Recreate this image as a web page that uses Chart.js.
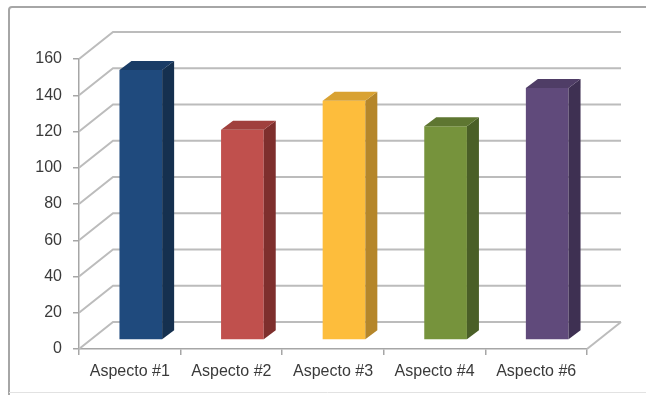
<!DOCTYPE html>
<html>
<head>
<meta charset="utf-8">
<script src="https://cdn.jsdelivr.net/npm/chart.js@4.4.1/dist/chart.umd.min.js"></script>
<style>
	html, body { margin: 0; padding: 0; background: #fff; }
	#wrap { width: 646px; height: 395px; }
</style>
</head>
<body>
<div id="wrap"><canvas id="aspectChart" width="646" height="395"></canvas></div>
<script>
// data
const categories = ['Aspecto #1', 'Aspecto #2', 'Aspecto #3', 'Aspecto #4', 'Aspecto #6'];
const values = [149, 116, 132, 118, 139];
const yTicks = [0, 20, 40, 60, 80, 100, 120, 140, 160];

const frontColors = ['#1f4a7d', '#c0504d', '#fdbd3c', '#76933c', '#604a7b'];
const sideColors = ['#15304f', '#7e2f2d', '#b5862a', '#4a5f27', '#3e3052'];
const topColors = ['#1a3c66', '#a0403d', '#d9a232', '#5e7631', '#4f3d66'];

// 3d look: depth of the walls and of each bar
const WALL_DX = 34, WALL_DY = -27;
const BAR_SHIFT_X = 11, BAR_SHIFT_Y = -9;
const BAR_DX = 12, BAR_DY = -9;

const frame3d = {
	id: 'frame3d',
	beforeDraw(chart) {
		const ctx = chart.ctx;
		ctx.save();
		ctx.strokeStyle = '#a6a6a6';
		ctx.lineWidth = 2;
		ctx.beginPath();
		ctx.moveTo(9, 395);
		ctx.lineTo(9, 10);
		ctx.quadraticCurveTo(9, 7, 12, 7);
		ctx.lineTo(646, 7);
		ctx.stroke();
		ctx.strokeStyle = '#e2e2e2';
		ctx.lineWidth = 1;
		ctx.beginPath();
		ctx.moveTo(9, 392.5);
		ctx.lineTo(646, 392.5);
		ctx.stroke();
		ctx.restore();
	},
	beforeDatasetsDraw(chart) {
		const ctx = chart.ctx;
		const area = chart.chartArea;
		const y = chart.scales.y;
		ctx.save();
		ctx.strokeStyle = '#bcbcbc';
		ctx.lineWidth = 2;
		yTicks.forEach(v => {
			const py = y.getPixelForValue(v);
			ctx.beginPath();
			ctx.moveTo(area.left, py);
			ctx.lineTo(area.left + WALL_DX, py + WALL_DY);
			ctx.lineTo(area.right + WALL_DX, py + WALL_DY);
			ctx.stroke();
		});
		// floor, right edge
		ctx.beginPath();
		ctx.moveTo(area.right, area.bottom);
		ctx.lineTo(area.right + WALL_DX, area.bottom + WALL_DY);
		ctx.stroke();
		ctx.restore();

		// front faces are drawn a bit deeper than the front plane
		ctx.save();
		ctx.translate(BAR_SHIFT_X, BAR_SHIFT_Y);
	},
	afterDatasetsDraw(chart) {
		const ctx = chart.ctx;
		const meta = chart.getDatasetMeta(0);
		meta.data.forEach((bar, i) => {
			const { x, y, base, width } = bar.getProps(['x', 'y', 'base', 'width'], true);
			const l = x - width / 2, r = x + width / 2;

			ctx.fillStyle = sideColors[i];
			ctx.beginPath();
			ctx.moveTo(r, y);
			ctx.lineTo(r + BAR_DX, y + BAR_DY);
			ctx.lineTo(r + BAR_DX, base + BAR_DY);
			ctx.lineTo(r, base);
			ctx.closePath();
			ctx.fill();

			ctx.fillStyle = topColors[i];
			ctx.beginPath();
			ctx.moveTo(l, y);
			ctx.lineTo(l + BAR_DX, y + BAR_DY);
			ctx.lineTo(r + BAR_DX, y + BAR_DY);
			ctx.lineTo(r, y);
			ctx.closePath();
			ctx.fill();
		});
		ctx.restore();
	}
};

new Chart(document.getElementById('aspectChart'), {
	type: 'bar',
	data: {
		labels: categories,
		datasets: [
			{
				data: values,
				backgroundColor: frontColors,
				borderWidth: 0,
				barPercentage: 0.42,
				categoryPercentage: 1
			}
		]
	},
	options: {
		responsive: false,
		animation: false,
		layout: { padding: { left: 0, right: 59, top: 59, bottom: 0 } },
		plugins: {
			legend: { display: false },
			tooltip: { enabled: false }
		},
		scales: {
			x: {
				grid: { drawOnChartArea: false, tickLength: 6, color: '#a6a6a6', lineWidth: 1.5 },
				border: { color: '#a6a6a6', width: 1.5 },
				ticks: { color: '#3a3a3a', font: { family: 'Liberation Sans', size: 16 }, padding: 7, maxRotation: 0 },
				afterFit: s => { s.height = 46; }
			},
			y: {
				min: 0,
				max: 160,
				afterBuildTicks: s => { s.ticks = yTicks.map(v => ({ value: v })); },
				grid: { drawOnChartArea: false, tickLength: 6, color: '#a6a6a6', lineWidth: 1.5 },
				border: { color: '#a6a6a6', width: 1.5 },
				ticks: { color: '#3a3a3a', font: { family: 'Liberation Sans', size: 16 }, padding: 11 },
				afterFit: s => { s.width = 79; }
			}
		}
	},
	plugins: [frame3d]
});
</script>
</body>
</html>
